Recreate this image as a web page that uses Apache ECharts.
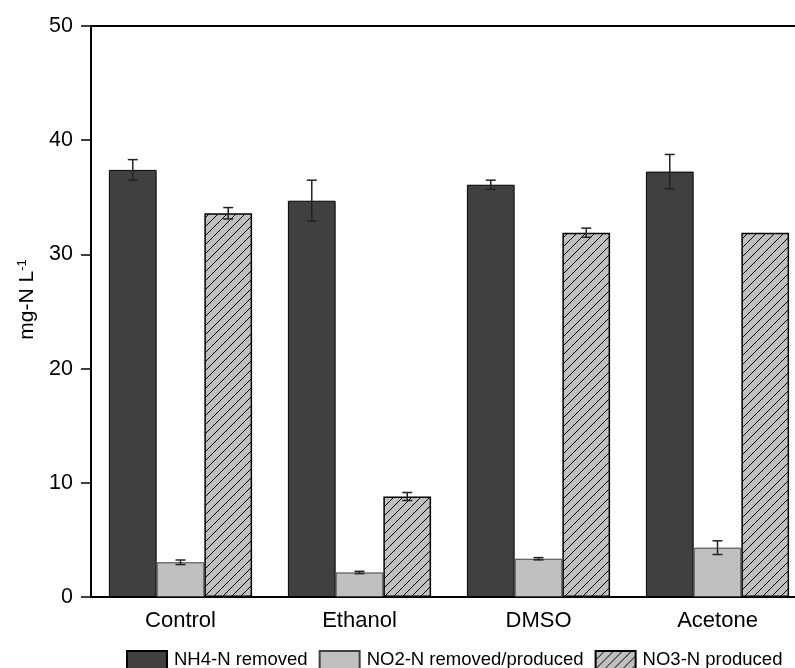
<!DOCTYPE html>
<html>
<head>
<meta charset="utf-8">
<script src="https://cdn.jsdelivr.net/npm/echarts@6/dist/echarts.min.js"></script>
<style>
html,body{margin:0;padding:0;background:#fff;overflow:hidden;width:795px;height:668px;}
#chart{width:830px;height:668px;}
</style>
</head>
<body>
<div id="chart"></div>
<script>
var categories = ['Control', 'Ethanol', 'DMSO', 'Acetone'];
var seriesNames = ['NH4-N removed', 'NO2-N removed/produced', 'NO3-N produced'];
var nh4Removed = [37.4, 34.7, 36.1, 37.25];
var no2Removed = [3.04, 2.15, 3.35, 4.32];
var no3Produced = [33.6, 8.8, 31.9, 31.9];
var nh4Err = [0.9, 1.8, 0.4, 1.5];
var no2Err = [0.2, 0.1, 0.1, 0.6];
var no3Err = [0.5, 0.35, 0.4, 0];
var yTicks = [0, 10, 20, 30, 40, 50];

var FONT = 'Liberation Sans, Arial, Helvetica, sans-serif';

function hatchPattern() {
  var s = 9;
  var c = document.createElement('canvas');
  c.width = s; c.height = s;
  var g = c.getContext('2d');
  g.fillStyle = '#c0c0c0';
  g.fillRect(0, 0, s, s);
  g.strokeStyle = '#000';
  g.lineWidth = 1;
  g.beginPath();
  g.moveTo(-1, s + 1); g.lineTo(s + 1, -1);
  g.moveTo(-1, 1); g.lineTo(1, -1);
  g.moveTo(s - 1, s + 1); g.lineTo(s + 1, s - 1);
  g.stroke();
  return c;
}

var valueSets = [nh4Removed, no2Removed, no3Produced];
var errSets = [nh4Err, no2Err, no3Err];
var errData = [];
for (var s = 0; s < 3; s++) {
  for (var i = 0; i < categories.length; i++) {
    errData.push([i, valueSets[s][i], errSets[s][i], s]);
  }
}

var chart = echarts.init(document.getElementById('chart'), null, {renderer: 'canvas'});
var option = {
  animation: false,
  backgroundColor: '#fff',
  textStyle: {fontFamily: FONT},
  grid: {left: 91, top: 26, width: 716, height: 571, show: true, borderColor: '#000', borderWidth: 2, backgroundColor: 'transparent'},
  legend: {
    data: seriesNames,
    left: 126,
    top: 650,
    padding: 0,
    icon: 'rect',
    itemWidth: 40,
    itemHeight: 18,
    itemGap: 11,
    textStyle: {fontFamily: FONT, fontSize: 18.5, color: '#000', padding: [0, 0, 0, 2]}
  },
  xAxis: {
    type: 'category',
    data: categories,
    axisLine: {lineStyle: {color: '#000', width: 2}},
    axisTick: {show: false},
    axisLabel: {fontFamily: FONT, fontSize: 22, color: '#000', margin: 13},
    splitLine: {show: false}
  },
  yAxis: {
    type: 'value',
    min: yTicks[0],
    max: yTicks[yTicks.length - 1],
    interval: 10,
    name: 'mg-N L{sup|-1}',
    nameLocation: 'middle',
    nameGap: 32,
    nameRotate: 90,
    nameTextStyle: {
      fontFamily: FONT, fontSize: 21, color: '#000',
      padding: [0, 0, 0, 24],
      rich: {sup: {fontFamily: FONT, fontSize: 13, color: '#000', verticalAlign: 'top', padding: [0, 0, 10, 0]}}
    },
    axisLine: {show: true, lineStyle: {color: '#000', width: 2}},
    axisTick: {show: true, inside: false, length: 10, lineStyle: {color: '#000', width: 1.5}},
    axisLabel: {fontFamily: FONT, fontSize: 21.5, color: '#000', margin: 18},
    splitLine: {show: false}
  },
  series: [
    {
      name: seriesNames[0], type: 'bar', data: nh4Removed,
      barGap: '0%', barCategoryGap: '20%',
      itemStyle: {color: '#404040', borderColor: '#000', borderWidth: 1}
    },
    {
      name: seriesNames[1], type: 'bar', data: no2Removed,
      barGap: '0%', barCategoryGap: '20%',
      itemStyle: {color: '#c0c0c0', borderColor: '#404040', borderWidth: 1}
    },
    {
      name: seriesNames[2], type: 'bar', data: no3Produced,
      barGap: '0%', barCategoryGap: '20%',
      itemStyle: {color: {image: hatchPattern(), repeat: 'repeat'}, borderColor: '#000', borderWidth: 1.5}
    },
    {
      type: 'custom',
      name: 'err',
      data: errData,
      encode: {x: 0, y: 1},
      z: 10,
      silent: true,
      renderItem: function (params, api) {
        var ci = api.value(0), val = api.value(1), err = api.value(2), si = api.value(3);
        if (!err) return null;
        var band = api.size([1, 0])[0];
        var bw = band * 0.8 / 3;
        var c = api.coord([ci, val]);
        var x = c[0] + (si - 1) * bw;
        var yt = api.coord([ci, val + err])[1];
        var yb = api.coord([ci, val - err])[1];
        var hw = 5;
        var st = {stroke: '#222', lineWidth: 1.5, fill: null};
        return {
          type: 'group',
          children: [
            {type: 'line', shape: {x1: x, y1: yt, x2: x, y2: yb}, style: st},
            {type: 'line', shape: {x1: x - hw, y1: yt, x2: x + hw, y2: yt}, style: st},
            {type: 'line', shape: {x1: x - hw, y1: yb, x2: x + hw, y2: yb}, style: st}
          ]
        };
      }
    }
  ]
};
chart.setOption(option);
</script>
</body>
</html>
